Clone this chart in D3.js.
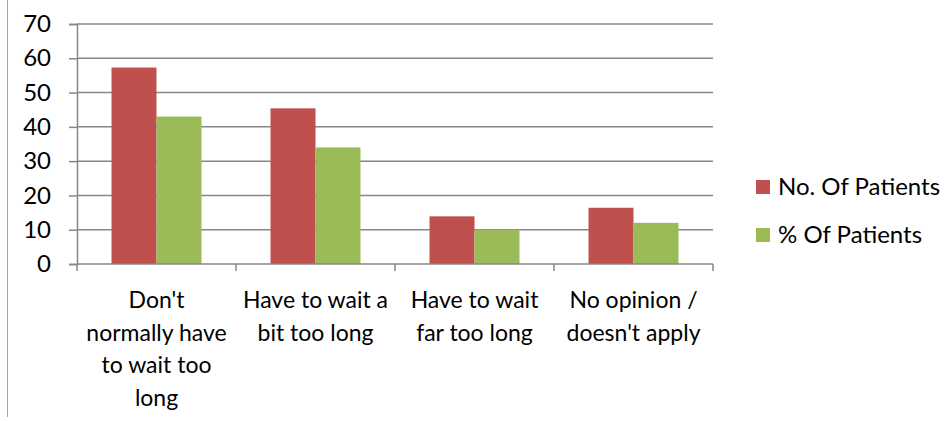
<!DOCTYPE html>
<html>
<head>
<meta charset="utf-8">
<script src="https://cdn.jsdelivr.net/npm/d3@7"></script>
<style>
  body { margin: 0; background: #fff; }
  svg { display: block; font-family: Lato, "Open Sans", sans-serif; }
</style>
</head>
<body>
<svg id="chart"></svg>
<script>
// Data
const categories = [
    "Don't normally have to wait too long",
    "Have to wait a bit too long",
    "Have to wait far too long",
    "No opinion / doesn't apply"
];
const tickLabels = [
    ["Don't", "normally have", "to wait too", "long"],
    ["Have to wait a", "bit too long"],
    ["Have to wait", "far too long"],
    ["No opinion /", "doesn't apply"]
];
const seriesNames = ["No. Of Patients", "% Of Patients"];
const noOfPatients = [57.3, 45.4, 13.9, 16.4];
const pctOfPatients = [43, 34, 10, 12];
const yTicks = [0, 10, 20, 30, 40, 50, 60, 70];

const width = 944;
const height = 421;
const margin = { top: 24, right: 231, bottom: 157, left: 77 };
const colors = ["#c0504d", "#9bbb59"];
const gridColor = "#878787";

const svg = d3.select("#chart")
    .attr("width", width)
    .attr("height", height);

// Outer frame remnant on the left
svg.append("line")
    .attr("x1", 7.5).attr("x2", 7.5)
    .attr("y1", 0).attr("y2", 417)
    .attr("stroke", "#a6a6a6")
    .attr("stroke-width", 1);

const x = d3.scaleBand()
    .domain(categories)
    .range([margin.left, width - margin.right]);

const xInner = d3.scaleBand()
    .domain(seriesNames)
    .range([0, x.bandwidth()])
    .paddingInner(0)
    .paddingOuter(0.767);

const y = d3.scaleLinear()
    .domain([0, 70])
    .range([height - margin.bottom, margin.top]);

// Y axis
svg.append("g")
    .attr("transform", `translate(${margin.left},0)`)
    .call(d3.axisLeft(y).tickValues(yTicks).tickSize(8).tickPadding(18))
    .call(g => g.select(".domain").attr("stroke", gridColor).attr("stroke-width", 1.5))
    .call(g => g.selectAll(".tick line").attr("stroke", gridColor).attr("stroke-width", 1.5))
    .call(g => g.selectAll(".tick text")
        .attr("fill", "#000")
        .attr("font-size", 24)
        .attr("font-family", "Lato, sans-serif"));

// Gridlines
svg.append("g")
    .selectAll("line")
    .data(yTicks.filter(d => d > 0))
    .join("line")
    .attr("x1", margin.left)
    .attr("x2", width - margin.right)
    .attr("y1", d => y(d))
    .attr("y2", d => y(d))
    .attr("stroke", gridColor)
    .attr("stroke-width", 1.5);

// Bars
const groups = svg.append("g")
    .selectAll("g")
    .data(categories)
    .join("g")
    .attr("transform", d => `translate(${x(d)},0)`);

groups.selectAll("rect")
    .data((d, i) => [noOfPatients[i], pctOfPatients[i]].map((v, j) => ({ key: seriesNames[j], value: v, j })))
    .join("rect")
    .attr("x", d => xInner(d.key))
    .attr("width", xInner.bandwidth())
    .attr("y", d => y(d.value))
    .attr("height", d => y(0) - y(d.value))
    .attr("fill", d => colors[d.j]);

// X axis
const xAxisG = svg.append("g")
    .attr("transform", `translate(0,${y(0)})`);

xAxisG.append("line")
    .attr("x1", margin.left).attr("x2", width - margin.right)
    .attr("y1", 0).attr("y2", 0)
    .attr("stroke", gridColor).attr("stroke-width", 1.5);

const boundaries = categories.map(c => x(c)).concat([x(categories[categories.length - 1]) + x.bandwidth()]);
xAxisG.selectAll(".xtick")
    .data(boundaries)
    .join("line")
    .attr("class", "xtick")
    .attr("x1", d => d).attr("x2", d => d)
    .attr("y1", 0).attr("y2", 7)
    .attr("stroke", gridColor).attr("stroke-width", 1.5);

const labels = xAxisG.selectAll(".xlabel")
    .data(categories)
    .join("text")
    .attr("class", "xlabel")
    .attr("text-anchor", "middle")
    .attr("font-size", 23)
    .attr("fill", "#000")
    .attr("transform", d => `translate(${x(d) + x.bandwidth() / 2},0)`);

labels.selectAll("tspan")
    .data((d, i) => tickLabels[i])
    .join("tspan")
    .attr("x", 0)
    .attr("y", (d, i) => 44 + i * 32.7)
    .text(d => d);

// Legend
const legend = svg.append("g")
    .selectAll("g")
    .data(seriesNames)
    .join("g")
    .attr("transform", (d, i) => `translate(756,${180 + i * 48})`);

legend.append("rect")
    .attr("width", 14)
    .attr("height", 14)
    .attr("fill", (d, i) => colors[i]);

legend.append("text")
    .attr("x", 22)
    .attr("y", 7)
    .attr("dy", "0.35em")
    .attr("font-size", 24)
    .attr("fill", "#000")
    .text(d => d);
</script>
</body>
</html>
